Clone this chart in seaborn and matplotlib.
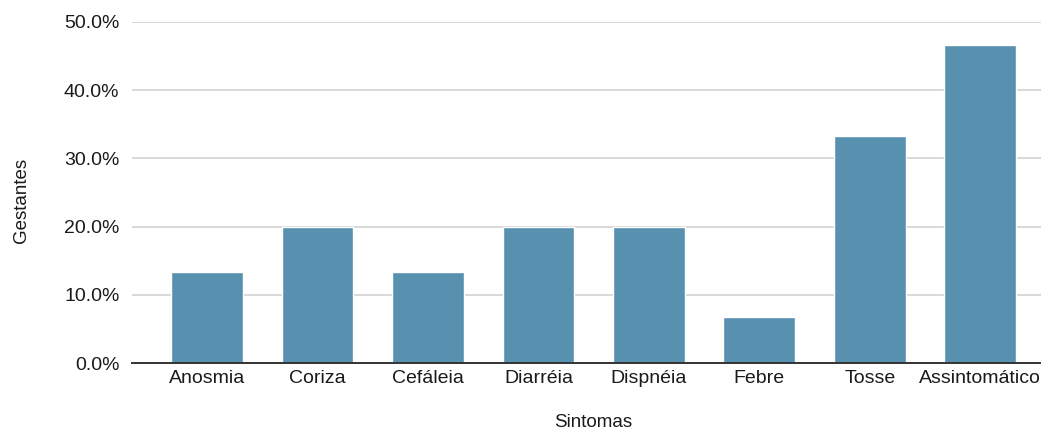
import matplotlib
matplotlib.use("Agg")
import matplotlib.pyplot as plt
from matplotlib.ticker import FuncFormatter
import seaborn as sns
import pandas as pd

# Symptoms reported by pregnant patients (share of cases)
sintomas = ["Anosmia", "Coriza", "Cefáleia", "Diarréia", "Dispnéia", "Febre", "Tosse", "Assintomático"]
percentuais = [13.3, 20.0, 13.3, 20.0, 20.0, 6.7, 33.3, 46.7]
y_ticks = [0, 10, 20, 30, 40, 50]

df = pd.DataFrame({"Sintomas": sintomas, "Gestantes": percentuais})

sns.set_theme(style="white")
plt.rcParams["font.family"] = ["Liberation Sans", "DejaVu Sans"]

fig = plt.figure(figsize=(10.41, 4.30), dpi=100)
ax = fig.add_axes([132 / 1041, 67 / 430, 1 - 132 / 1041, (363 - 22) / 430])

sns.barplot(data=df, x="Sintomas", y="Gestantes", color="#5891af",
            saturation=1, width=0.65, ax=ax, zorder=3)

ax.set_ylim(0, 50)
ax.set_xlim(-0.68, 7.55)
ax.set_yticks(y_ticks)
ax.yaxis.set_major_formatter(FuncFormatter(lambda v, _: f"{v:.1f}%"))
ax.grid(axis="y", color="#d6d6d6", linewidth=1.3, zorder=0)
ax.set_axisbelow(True)

for side in ["top", "right", "left"]:
    ax.spines[side].set_visible(False)
ax.spines["bottom"].set_color("#333333")
ax.spines["bottom"].set_linewidth(1.4)
ax.spines["bottom"].set_zorder(4)

ax.tick_params(axis="both", length=0, labelsize=14, colors="#1a1a1a")
ax.tick_params(axis="x", pad=5)
ax.tick_params(axis="y", pad=9)

ax.set_xlabel("Sintomas", fontsize=13.5, color="#1a1a1a")
ax.set_ylabel("Gestantes", fontsize=13.5, color="#1a1a1a")
ax.xaxis.set_label_coords(0.507, -0.15)
ax.yaxis.set_label_coords(-0.112, 0.478)

fig.savefig("out.png", dpi=100)
